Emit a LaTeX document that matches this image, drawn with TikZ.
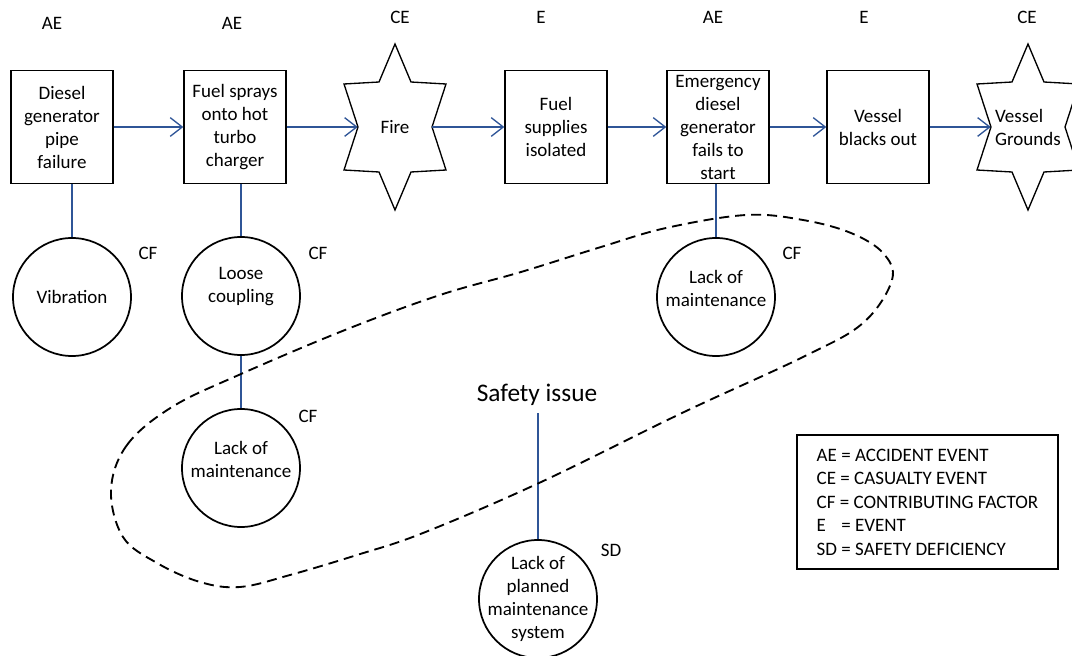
\documentclass[tikz,border=0pt]{standalone}
\usepackage{fontspec}
\setmainfont{Carlito}
\usetikzlibrary{arrows.meta,calc}
\definecolor{linkblue}{RGB}{47,85,151}

% six-pointed star, drawn round the centre of a node
\newcommand\sixstar[1]{%
  \draw[staredge, shift={(#1.center)}]
    (0,-83) -- (16,-45) -- (51,-43) -- (37,0) -- (51,43) -- (16,45) --
    (0,83) -- (-16,45) -- (-51,43) -- (-37,0) -- (-51,-43) -- (-16,-45) -- cycle;}

\tikzset{
  evbox/.style={draw, line width=1pt, minimum width=76.5pt, minimum height=84.75pt,
                inner sep=0pt, align=center},
  starcore/.style={minimum width=55.5pt, minimum height=124.5pt, inner sep=0pt, align=center},
  staredge/.style={line width=1pt, line join=miter},
  factor/.style={draw, circle, line width=1.3pt, minimum size=88.5pt, inner sep=0pt},
  flow/.style={draw=linkblue, line width=1pt, -{Straight Barb[length=9pt,width=14pt,line width=1pt]}},
  tie/.style={draw=linkblue, line width=0.9pt},
  tag/.style={inner sep=0pt},
  zone/.style={draw, line width=1.4pt, dash pattern=on 7.5pt off 4.5pt},
}

\begin{document}
\begin{tikzpicture}[x=0.75pt, y=-0.75pt,
  every node/.style={font=\fontsize{14.25}{17.25}\selectfont}]
\useasboundingbox (0,0) rectangle (1072,656);

% event chain
\node[evbox] (b1) at (62,127)  {Diesel\\generator\\pipe\\failure};
\node[evbox] (b2) at (235,127) {Fuel sprays\\onto hot\\turbo\\charger};
\node[starcore] (fire) at (395,127) {Fire};
\sixstar{fire}
\node[evbox] (b3) at (556,127) {Fuel\\supplies\\isolated};
\node[evbox] (b4) at (718,127) {Emergency\\diesel\\generator\\fails to\\start};
\node[evbox] (b5) at (878,127) {Vessel\\blacks out};
\node[starcore, align=left] (gr) at (1028,127) {Vessel\\Grounds};
\sixstar{gr}

% event type tags
\node[tag] (t1) at (52,23)   {AE};
\node[tag] (t2) at (232,23)  {AE};
\node[tag] (t3) at (400,17)  {CE};
\node[tag] (t4) at (541,17)  {E};
\node[tag] (t5) at (713,17)  {AE};
\node[tag] (t6) at (864,17)  {E};
\node[tag] (t7) at (1027,17) {CE};

% flow arrows
\draw[flow] (b1.east) -- (b2.west);
\draw[flow] (b2.east) -- (fire.west);
\draw[flow] (fire.east) -- (b3.west);
\draw[flow] (b3.east) -- (b4.west);
\draw[flow] (b4.east) -- (b5.west);
\draw[flow] (b5.east) -- (gr.west);

% contributing factors
\node[factor, label={[align=center]center:Vibration}] (vib) at (72,297) {};
\node[factor, label={[align=center, yshift=6.75pt]center:Loose\\coupling}] (loose) at (241,296) {};
\node[factor, label={[align=center, yshift=6.75pt]center:Lack of\\maintenance}] (lm1) at (241,468) {};
\node[factor, label={[align=center, yshift=6.75pt]center:Lack of\\maintenance}] (lm2) at (716,297) {};
\node[factor, label={[align=center]center:Lack of\\planned\\maintenance\\system}] (sd) at (538,599) {};

\node[tag] (c1) at (148,253) {CF};
\node[tag] (c2) at (318,253) {CF};
\node[tag] (c3) at (308,416) {CF};
\node[tag] (c4) at (792,253) {CF};
\node[tag] (c5) at (611,550) {SD};

\draw[tie] (vib.north) -- (vib.north |- b1.south);
\draw[tie] (loose.north) -- (loose.north |- b2.south);
\draw[tie] (loose.south) -- (lm1.north);
\draw[tie] (lm2.north) -- (lm2.north |- b4.south);

% safety issue
\node[inner sep=5pt, font=\fontsize{19}{22}\selectfont] (si) at (537,395) {Safety issue};
\draw[tie] (sd.north) -- (sd.north |- si.south);

% dashed boundary of the safety issue
\draw[zone] plot[smooth cycle, tension=0.6] coordinates {
  (111,490) (127,445) (172,407) (241,374) (345,330) (440,295) (521,272)
  (601,247) (666,228) (746,215) (803,220) (851,233) (883,253) (892,280)
  (863,323) (803,357) (682,413) (539,483) (423,533) (357,555) (290,575)
  (240,587) (200,582) (157,563) (123,537)};

% legend
\node[draw, line width=1pt, minimum width=195.75pt, minimum height=100.5pt,
      align=left, inner sep=0pt, font=\fontsize{14.25}{17.6}\selectfont] (key) at (927.5,502)
  {AE = ACCIDENT EVENT\\CE = CASUALTY EVENT\\CF = CONTRIBUTING FACTOR\\E\phantom{A} = EVENT\\SD = SAFETY DEFICIENCY};
\end{tikzpicture}
\end{document}
